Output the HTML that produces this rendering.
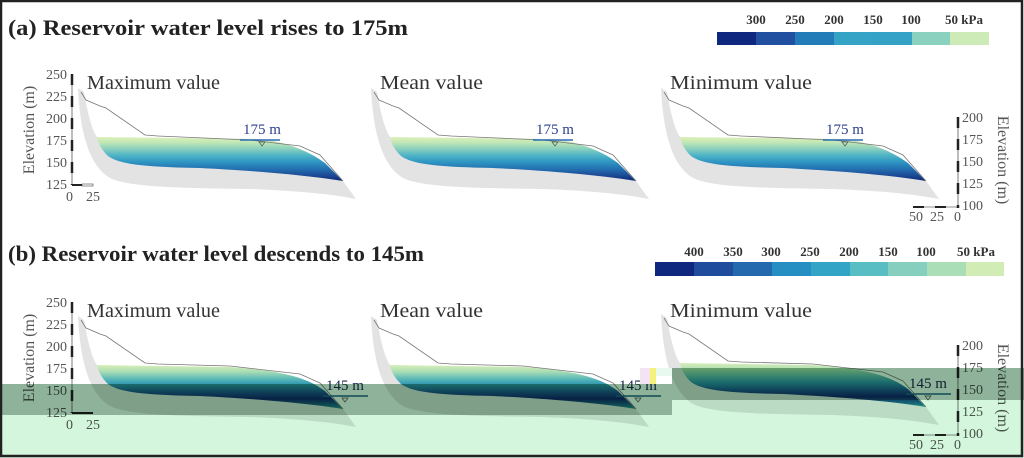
<!DOCTYPE html>
<html><head><meta charset="utf-8"><style>
html,body{margin:0;padding:0;background:#fff}
svg{display:block}
text{font-family:"Liberation Serif",serif}
.mul{mix-blend-mode:multiply}
</style></head><body>
<svg width="1024" height="458" viewBox="0 0 1024 458" xmlns="http://www.w3.org/2000/svg">
<defs>
<linearGradient id="ga" x1="0" y1="137" x2="0" y2="182" gradientUnits="userSpaceOnUse">
<stop offset="0" stop-color="#dcf0b8"/><stop offset="0.12" stop-color="#c2e7b6"/>
<stop offset="0.25" stop-color="#8fd2bd"/><stop offset="0.4" stop-color="#52b6c6"/>
<stop offset="0.55" stop-color="#2f97c2"/><stop offset="0.7" stop-color="#2473b2"/>
<stop offset="0.85" stop-color="#1d4b97"/><stop offset="1" stop-color="#0c2470"/>
</linearGradient>
<linearGradient id="gb" x1="0" y1="365" x2="0" y2="410" gradientUnits="userSpaceOnUse">
<stop offset="0" stop-color="#d8efb8"/><stop offset="0.15" stop-color="#a9ddb4"/>
<stop offset="0.3" stop-color="#5fbbb8"/><stop offset="0.45" stop-color="#2a93b0"/>
<stop offset="0.6" stop-color="#1a5d92"/><stop offset="0.75" stop-color="#0e2f72"/>
<stop offset="0.9" stop-color="#1a6f8a"/><stop offset="1" stop-color="#2aa69a"/>
</linearGradient>
<g id="pa">
<path d="M78,88 L84,92 C88,115 92,130 97,137 L343,181 L356,199 C330,194 300,191 250,189 C190,188 130,188 110,178 C88,165 80,130 78,88 Z" fill="#e3e3e3"/>
<path d="M97,137 L262,139 C290,143 310,152 325,163 L343,181 C300,174 240,170 200,168 C150,167 120,165 108,156 C100,148 98,142 97,137 Z" fill="url(#ga)"/>
<path d="M81,92 L86,100 L100,106 L106,108 L145,135 L158,136 L250,140 L300,146 L320,155 L343,181" fill="none" stroke="#777" stroke-width="0.8"/>
<line x1="240" y1="140" x2="280" y2="140" stroke="#2a6bb8" stroke-width="1.5"/>
<path d="M259,142 L265,142 L262,146 Z" fill="none" stroke="#555" stroke-width="0.7"/>
<text x="243" y="134" font-size="15" fill="#2c3f8c">175 m</text>
</g>
<g id="pb">
<path d="M78,316 L84,320 C88,343 92,358 97,365 L343,409 L356,427 C330,422 300,419 250,417 C190,416 130,416 110,406 C88,393 80,358 78,316 Z" fill="#e3e3e3"/>
<path d="M97,365 L230,367 C290,371 310,380 325,391 L343,409 C300,402 240,398 200,396 C150,395 120,393 108,384 C100,376 98,370 97,365 Z" fill="url(#gb)"/>
<path d="M81,320 L86,328 L100,334 L106,336 L145,363 L158,364 L230,366 L300,374 L320,383 L343,409" fill="none" stroke="#777" stroke-width="0.8"/>
<line x1="323" y1="396" x2="368" y2="396" stroke="#1f6a8a" stroke-width="1.5"/>
<path d="M342,398 L348,398 L345,402 Z" fill="none" stroke="#555" stroke-width="0.7"/>
<text x="326" y="390" font-size="15" fill="#1a2a50">145 m</text>
</g>
</defs>

<!-- (a) -->
<text x="8" y="35" font-size="22" font-weight="bold" fill="#222" textLength="400" lengthAdjust="spacingAndGlyphs">(a)  Reservoir water level rises to 175m</text>
<g font-size="13" font-weight="bold" fill="#333" text-anchor="middle">
<text x="756" y="24">300</text><text x="795" y="24">250</text><text x="834" y="24">200</text><text x="873" y="24">150</text><text x="911" y="24">100</text><text x="964" y="24">50 kPa</text>
</g>
<g>
<rect x="717" y="32" width="39" height="13" fill="#10277f"/><rect x="756" y="32" width="39" height="13" fill="#2250a0"/>
<rect x="795" y="32" width="39" height="13" fill="#237bb8"/><rect x="834" y="32" width="39" height="13" fill="#35a3c6"/>
<rect x="873" y="32" width="39" height="13" fill="#34a2c6"/><rect x="912" y="32" width="38" height="13" fill="#8ad2bf"/>
<rect x="950" y="32" width="39" height="13" fill="#cdebb6"/>
</g>
<use href="#pa"/><use href="#pa" x="293"/><use href="#pa" x="583"/>
<g font-size="20" fill="#333"><text x="87" y="89" textLength="133" lengthAdjust="spacingAndGlyphs">Maximum value</text><text x="380" y="89" textLength="103" lengthAdjust="spacingAndGlyphs">Mean value</text><text x="670" y="89" textLength="142" lengthAdjust="spacingAndGlyphs">Minimum value</text></g>
<g font-size="14" fill="#555" text-anchor="end">
<text x="67" y="79">250</text><text x="67" y="101">225</text><text x="67" y="123">200</text><text x="67" y="145">175</text><text x="67" y="167">150</text><text x="67" y="189">125</text>
</g>
<line x1="72" y1="74" x2="72" y2="185" stroke="#222" stroke-width="2.5" stroke-dasharray="11,11"/>
<line x1="72" y1="74" x2="72" y2="185" stroke="#222" stroke-width="0.6"/>
<line x1="72" y1="185" x2="93" y2="185" stroke="#222" stroke-width="2"/>
<rect x="82" y="184" width="11" height="2" fill="#fff" stroke="#222" stroke-width="0.5"/>
<text x="66" y="201" font-size="14" fill="#555">0</text><text x="86" y="201" font-size="14" fill="#555">25</text>
<text transform="translate(34,130) rotate(-90)" font-size="16" fill="#555" text-anchor="middle">Elevation (m)</text>
<line x1="958" y1="117" x2="958" y2="208" stroke="#222" stroke-width="2.5" stroke-dasharray="11,11"/>
<line x1="958" y1="117" x2="958" y2="208" stroke="#222" stroke-width="0.6"/>
<line x1="913" y1="207" x2="958" y2="207" stroke="#222" stroke-width="2" stroke-dasharray="11,11"/>
<line x1="913" y1="207" x2="958" y2="207" stroke="#222" stroke-width="0.6"/>
<g font-size="14" fill="#555"><text x="962" y="122">200</text><text x="962" y="144">175</text><text x="962" y="166">150</text><text x="962" y="188">125</text><text x="962" y="210">100</text>
<text x="909" y="221">50</text><text x="930" y="221">25</text><text x="954" y="221">0</text></g>
<text transform="translate(998,160) rotate(90)" font-size="16" fill="#555" text-anchor="middle">Elevation (m)</text>

<!-- (b) -->
<text x="8" y="261" font-size="22" font-weight="bold" fill="#222" textLength="416" lengthAdjust="spacingAndGlyphs">(b)  Reservoir water level descends to 145m</text>
<g font-size="13" font-weight="bold" fill="#333" text-anchor="middle">
<text x="694" y="256">400</text><text x="733" y="256">350</text><text x="771" y="256">300</text><text x="810" y="256">250</text><text x="849" y="256">200</text><text x="888" y="256">150</text><text x="926" y="256">100</text><text x="976" y="256">50 kPa</text>
</g>
<g>
<rect x="655" y="262" width="39" height="14" fill="#10277f"/><rect x="694" y="262" width="39" height="14" fill="#1f4c9c"/>
<rect x="733" y="262" width="39" height="14" fill="#2468ae"/><rect x="772" y="262" width="39" height="14" fill="#258fc4"/>
<rect x="811" y="262" width="39" height="14" fill="#32a5c6"/><rect x="850" y="262" width="38" height="14" fill="#58bec4"/>
<rect x="888" y="262" width="39" height="14" fill="#86cfbf"/><rect x="927" y="262" width="39" height="14" fill="#aadeb7"/>
<rect x="966" y="262" width="38" height="14" fill="#d1ecb4"/>
</g>
<use href="#pb"/><use href="#pb" x="293"/><use href="#pb" x="583" y="-2"/>
<g font-size="20" fill="#333"><text x="87" y="317" textLength="133" lengthAdjust="spacingAndGlyphs">Maximum value</text><text x="380" y="317" textLength="103" lengthAdjust="spacingAndGlyphs">Mean value</text><text x="670" y="317" textLength="142" lengthAdjust="spacingAndGlyphs">Minimum value</text></g>
<g font-size="14" fill="#555" text-anchor="end">
<text x="67" y="307">250</text><text x="67" y="329">225</text><text x="67" y="351">200</text><text x="67" y="373">175</text><text x="67" y="395">150</text><text x="67" y="417">125</text>
</g>
<line x1="72" y1="302" x2="72" y2="413" stroke="#222" stroke-width="2.5" stroke-dasharray="11,11"/>
<line x1="72" y1="302" x2="72" y2="413" stroke="#222" stroke-width="0.6"/>
<line x1="72" y1="413" x2="93" y2="413" stroke="#222" stroke-width="2"/>
<text x="66" y="429" font-size="14" fill="#555">0</text><text x="86" y="429" font-size="14" fill="#555">25</text>
<text transform="translate(34,358) rotate(-90)" font-size="16" fill="#555" text-anchor="middle">Elevation (m)</text>
<line x1="958" y1="345" x2="958" y2="436" stroke="#222" stroke-width="2.5" stroke-dasharray="11,11"/>
<line x1="958" y1="345" x2="958" y2="436" stroke="#222" stroke-width="0.6"/>
<line x1="913" y1="435" x2="958" y2="435" stroke="#222" stroke-width="2" stroke-dasharray="11,11"/>
<line x1="913" y1="435" x2="958" y2="435" stroke="#222" stroke-width="0.6"/>
<g font-size="14" fill="#555"><text x="962" y="350">200</text><text x="962" y="372">175</text><text x="962" y="394">150</text><text x="962" y="416">125</text><text x="962" y="438">100</text>
<text x="909" y="449">50</text><text x="930" y="449">25</text><text x="954" y="449">0</text></g>
<text transform="translate(998,388) rotate(90)" font-size="16" fill="#555" text-anchor="middle">Elevation (m)</text>

<!-- overlay artifacts -->
<rect class="mul" x="0" y="384" width="672" height="31" fill="#8fb39a"/>
<rect class="mul" x="672" y="368" width="352" height="32" fill="#8fb39a"/>
<rect class="mul" x="0" y="415" width="672" height="43" fill="#d3f6dc"/>
<rect class="mul" x="672" y="400" width="352" height="58" fill="#d3f6dc"/>
<rect x="640" y="368" width="10" height="16" fill="#f3e3f3"/>
<rect x="650" y="368" width="6" height="16" fill="#f4f27a"/>
<rect x="656" y="368" width="16" height="8" fill="#e8faf0"/>

<rect x="1" y="1" width="1021" height="455" fill="none" stroke="#222" stroke-width="2.5"/>
</svg>
</body></html>
